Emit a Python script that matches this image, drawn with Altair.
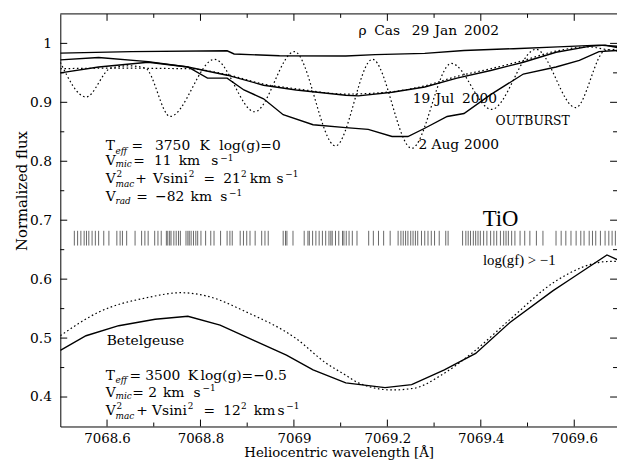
import altair as alt
import pandas as pd

# ---------------- frame / scales ----------------
X_MIN, X_MAX = 7068.5, 7069.6915
Y_MIN, Y_MAX = 0.35, 1.05
W, H = 564, 418
FONT = "DejaVu Serif"
X_TITLE = "Heliocentric wavelength [Å]"
Y_TITLE = "Normalized flux"

# ---------------- spectra ----------------
rho_wl = [7068.500, 7068.652, 7068.857, 7068.872, 7068.969, 7069.111, 7069.174,
          7069.280, 7069.364, 7069.470, 7069.565, 7069.653, 7069.692]
rho_fx = [0.9835, 0.986, 0.9875, 0.982, 0.979, 0.9785, 0.981,
          0.983, 0.988, 0.991, 0.994, 0.997, 0.995]

jul_wl = [7068.500, 7068.582, 7068.688, 7068.773, 7068.857, 7068.935, 7069.005,
          7069.111, 7069.138, 7069.210, 7069.280, 7069.349, 7069.421, 7069.491,
          7069.561, 7069.632, 7069.666, 7069.692]
jul_fx = [0.972, 0.976, 0.969, 0.960, 0.946, 0.929, 0.921,
          0.912, 0.911, 0.917, 0.926, 0.941, 0.954, 0.968,
          0.985, 0.995, 0.997, 0.993]

aug_wl = [7068.500, 7068.582, 7068.688, 7068.773, 7068.815, 7068.857, 7068.893,
          7068.935, 7068.977, 7069.041, 7069.111, 7069.159, 7069.210, 7069.244,
          7069.280, 7069.328, 7069.364, 7069.421, 7069.491, 7069.561, 7069.611,
          7069.653, 7069.692]
aug_fx = [0.950, 0.960, 0.968, 0.960, 0.941, 0.941, 0.921,
          0.906, 0.879, 0.862, 0.857, 0.854, 0.842, 0.842,
          0.856, 0.876, 0.881, 0.913, 0.948, 0.960, 0.971,
          0.986, 0.988]

osc_wl = [7068.500, 7068.555, 7068.608, 7068.646, 7068.682, 7068.735, 7068.830,
          7068.916, 7069.001, 7069.089, 7069.168, 7069.252, 7069.337, 7069.423,
          7069.518, 7069.603, 7069.666, 7069.692]
osc_fx = [0.968, 0.909, 0.958, 0.962, 0.958, 0.876, 0.973,
          0.884, 0.986, 0.826, 0.973, 0.822, 0.966, 0.888,
          0.990, 0.891, 0.988, 0.990]

smo_wl = [7068.500, 7068.597, 7068.773, 7068.857, 7068.935, 7069.005, 7069.111,
          7069.210, 7069.280, 7069.349, 7069.421, 7069.491, 7069.561, 7069.632,
          7069.666, 7069.692]
smo_fx = [0.957, 0.958, 0.957, 0.947, 0.931, 0.923, 0.914,
          0.918, 0.928, 0.944, 0.957, 0.971, 0.987, 0.994,
          0.990, 0.987]

bet_wl = [7068.500, 7068.555, 7068.625, 7068.703, 7068.773, 7068.842, 7068.914,
          7068.984, 7069.041, 7069.111, 7069.195, 7069.252, 7069.322, 7069.389,
          7069.463, 7069.554, 7069.590, 7069.670, 7069.692]
bet_fx = [0.479, 0.504, 0.521, 0.532, 0.537, 0.522, 0.496,
          0.471, 0.446, 0.424, 0.416, 0.421, 0.446, 0.474,
          0.527, 0.580, 0.599, 0.641, 0.633]

betm_wl = [7068.500, 7068.582, 7068.688, 7068.758, 7068.815, 7068.899, 7069.005,
           7069.068, 7069.111, 7069.138, 7069.210, 7069.258, 7069.315, 7069.385,
           7069.463, 7069.561, 7069.675, 7069.692]
betm_fx = [0.504, 0.544, 0.569, 0.577, 0.571, 0.544, 0.499,
           0.458, 0.437, 0.424, 0.412, 0.415, 0.437, 0.477,
           0.532, 0.597, 0.630, 0.630]

# TiO line positions (log(gf) > -1)
tio_wl = [7068.530, 7068.537, 7068.544, 7068.551, 7068.556, 7068.561, 7068.568,
          7068.575, 7068.582, 7068.593, 7068.604, 7068.621, 7068.628, 7068.633,
          7068.642, 7068.660, 7068.674, 7068.681, 7068.688, 7068.702, 7068.709,
          7068.716, 7068.727, 7068.730, 7068.734, 7068.737, 7068.743, 7068.748,
          7068.753, 7068.757, 7068.769, 7068.773, 7068.776, 7068.780, 7068.785,
          7068.790, 7068.794, 7068.801, 7068.811, 7068.822, 7068.829, 7068.843,
          7068.857, 7068.863, 7068.868, 7068.885, 7068.892, 7068.899, 7068.906,
          7068.917, 7068.931, 7068.938, 7068.945, 7068.977, 7068.982, 7068.985,
          7068.998, 7069.022, 7069.030, 7069.033, 7069.040, 7069.047, 7069.054,
          7069.061, 7069.068, 7069.075, 7069.079, 7069.082, 7069.089, 7069.096,
          7069.104, 7069.107, 7069.112, 7069.118, 7069.125, 7069.135, 7069.160,
          7069.170, 7069.181, 7069.192, 7069.206, 7069.223, 7069.229, 7069.234,
          7069.239, 7069.244, 7069.250, 7069.255, 7069.260, 7069.265, 7069.273,
          7069.280, 7069.287, 7069.294, 7069.301, 7069.311, 7069.325, 7069.330,
          7069.361, 7069.368, 7069.373, 7069.378, 7069.384, 7069.389, 7069.394,
          7069.399, 7069.406, 7069.413, 7069.421, 7069.428, 7069.434, 7069.442,
          7069.449, 7069.454, 7069.459, 7069.466, 7069.473, 7069.484, 7069.494,
          7069.505, 7069.519, 7069.533, 7069.561, 7069.572, 7069.582, 7069.593,
          7069.604, 7069.614, 7069.621, 7069.632, 7069.639, 7069.646, 7069.656,
          7069.666, 7069.674, 7069.681, 7069.688]
TIO_TOP, TIO_BOT = 0.682, 0.657

# axis ticks
x_major = [7068.6, 7068.8, 7069.0, 7069.2, 7069.4, 7069.6]
x_minor = [7068.7, 7068.9, 7069.1, 7069.3, 7069.5]
y_major = [0.4, 0.5, 0.6, 0.7, 0.8, 0.9, 1.0]
y_minor = [0.45, 0.55, 0.65, 0.75, 0.85, 0.95]

# ---------------- annotation placement (frame pixels -> data units) ----------------
def wl(px):
    return X_MIN + (px - 61) / 473.35


def fx(py):
    return 1 - (py - 40.85) / 597


main_txt = [
    ("ρ", 363, 28), ("Cas", 379, 28), ("29", 417, 28), ("Jan", 440, 28), ("2002", 470, 28),
    ("19", 418, 97), ("Jul", 441, 97), ("2000", 468, 97),
    ("2", 424, 144), ("Aug", 437, 144), ("2000", 470, 144),
    ("Betelgeuse", 108, 342),
    ("T", 107, 145), ("=", 133, 145), ("3750", 157, 145), ("K", 202, 145), ("log(g)=0", 222, 145),
    ("V", 107, 160), ("=", 135, 160), ("11", 156, 160), ("km", 181, 160), ("s", 214, 160),
    ("V", 107, 178), ("+", 137, 178), ("Vsini", 155, 178), ("=", 206, 178), ("21", 226, 178),
    ("km", 253, 178), ("s", 280, 178),
    ("V", 107, 197), ("=", 138, 197), ("−82", 157, 197), ("km", 193, 197), ("s", 223, 197),
    ("T", 107, 378), ("=", 131, 378), ("3500", 147, 378), ("K", 190, 378), ("log(g)=−0.5", 203, 378),
    ("V", 107, 395), ("=", 134, 395), ("2", 150, 395), ("km", 165, 395), ("s", 196, 395),
    ("V", 107, 413), ("+", 138, 413), ("Vsini", 154, 413), ("=", 206, 413), ("12", 226, 413),
    ("km", 257, 413), ("s", 281, 413),
]
caps_txt = [("OUTBURST", 502, 120)]
sub_txt = [("eff", 117, 150), ("mic", 117, 163), ("mac", 117, 183), ("rad", 117, 201),
           ("eff", 117, 382), ("mic", 117, 398), ("mac", 117, 418)]
sup_txt = [("−1", 223, 157), ("2", 118, 173), ("2", 191, 173), ("2", 244, 173), ("−1", 289, 173),
           ("−1", 232, 192), ("−1", 205, 390), ("2", 118, 408), ("2", 190, 408), ("2", 244, 408),
           ("−1", 290, 408)]


def tdf(rows):
    return pd.DataFrame({"text": [r[0] for r in rows],
                         "wl": [wl(r[1]) for r in rows],
                         "fx": [fx(r[2]) for r in rows]})


def series(name, x, y):
    return pd.DataFrame({"series": name, "wl": x, "fx": y})


solid = pd.concat([series("rho Cas 2002", rho_wl, rho_fx),
                   series("19 Jul 2000", jul_wl, jul_fx),
                   series("2 Aug 2000", aug_wl, aug_fx),
                   series("Betelgeuse", bet_wl, bet_fx)])
dotted = pd.concat([series("model osc", osc_wl, osc_fx),
                    series("model smooth", smo_wl, smo_fx),
                    series("model Betelgeuse", betm_wl, betm_fx)])

xs = alt.Scale(domain=[X_MIN, X_MAX], nice=False, zero=False)
ys = alt.Scale(domain=[Y_MIN, Y_MAX], nice=False, zero=False)

x_axis = alt.Axis(values=x_major, format="~f", ticks=False, tickSize=0, grid=False,
                  domainColor="black", domainWidth=1, labelFont=FONT, labelFontSize=13.5,
                  labelColor="black", labelPadding=5, labelFlush=False,
                  titleFont=FONT, titleFontSize=13.5, titleFontWeight="normal",
                  titleColor="black", titlePadding=1)
y_axis = alt.Axis(values=y_major, format="~f", ticks=False, tickSize=0, grid=False,
                  domainColor="black", domainWidth=1, labelFont=FONT, labelFontSize=14,
                  labelColor="black", labelPadding=9, labelFlush=False,
                  titleFont=FONT, titleFontSize=15, titleFontWeight="normal",
                  titleColor="black", titleAngle=270, titleAlign="center",
                  titleBaseline="middle", titleX=-39, titleY=179)


def X(field):
    return alt.X(f"{field}:Q", scale=xs, axis=x_axis, title=X_TITLE)


def Y(field):
    return alt.Y(f"{field}:Q", scale=ys, axis=y_axis, title=Y_TITLE)


solid_layer = alt.Chart(solid).mark_line(color="black", strokeWidth=1.4, clip=True).encode(
    x=X("wl"), y=Y("fx"), detail="series:N")
dotted_layer = alt.Chart(dotted).mark_line(color="black", strokeWidth=1.2, strokeDash=[1.6, 2.6],
                                           interpolate="monotone", clip=True).encode(
    x=X("wl"), y=Y("fx"), detail="series:N")

tio_df = pd.DataFrame({"wl": tio_wl, "top": TIO_TOP, "bot": TIO_BOT})
tio_layer = alt.Chart(tio_df).mark_rule(color="#333333", strokeWidth=1, opacity=0.75).encode(
    x=X("wl"), y=Y("top"), y2="bot:Q")

top_frame = alt.Chart(pd.DataFrame({"a": [X_MIN], "b": [X_MAX], "y": [Y_MAX]})).mark_rule(
    color="black", strokeWidth=1).encode(x=X("a"), x2="b:Q", y=Y("y"))


def xticks(vals, length):
    d = pd.DataFrame({"v": vals})
    bot = alt.Chart(d).mark_rule(color="black").encode(
        x=X("v"), y=alt.value(H), y2=alt.value(H - length))
    top = alt.Chart(d).mark_rule(color="black").encode(
        x=X("v"), y=alt.value(0), y2=alt.value(length))
    return [bot, top]


def yticks(vals, length):
    d = pd.DataFrame({"v": vals})
    left = alt.Chart(d).mark_rule(color="black").encode(
        y=Y("v"), x=alt.value(0), x2=alt.value(length))
    right = alt.Chart(d).mark_rule(color="black").encode(
        y=Y("v"), x=alt.value(W), x2=alt.value(W - length))
    return [left, right]


def text_layer(df, size, style="normal", font=FONT, align="left", baseline="middle"):
    return alt.Chart(df).mark_text(
        font=font, fontSize=size, fontStyle=style, align=align, baseline=baseline,
        color="black").encode(x=X("wl"), y=Y("fx"), text="text:N")


tio_label = text_layer(pd.DataFrame({"text": ["TiO"], "wl": [wl(507)], "fx": [fx(226)]}),
                       23, font="Liberation Serif", align="center", baseline="alphabetic")
gf_label = text_layer(pd.DataFrame({"text": ["log(gf) > −1"], "wl": [wl(526)], "fx": [fx(260)]}),
                      15, font="Liberation Serif", align="center")

layers = [solid_layer, dotted_layer, tio_layer, top_frame]
layers += xticks(x_major, 7) + xticks(x_minor, 4) + yticks(y_major, 7) + yticks(y_minor, 4)
layers += [text_layer(tdf(main_txt), 14), text_layer(tdf(caps_txt), 12.5),
           text_layer(tdf(sub_txt), 9, "italic"), text_layer(tdf(sup_txt), 9),
           tio_label, gf_label]

chart = alt.layer(*layers).properties(
    width=W, height=H,
    autosize=alt.AutoSizeParams(type="none"),
    padding={"left": 53, "top": 3, "right": 0, "bottom": 34},
    background="white",
).configure_view(stroke=None)

chart.save("out.html", embed_options={"renderer": "svg", "actions": False})
